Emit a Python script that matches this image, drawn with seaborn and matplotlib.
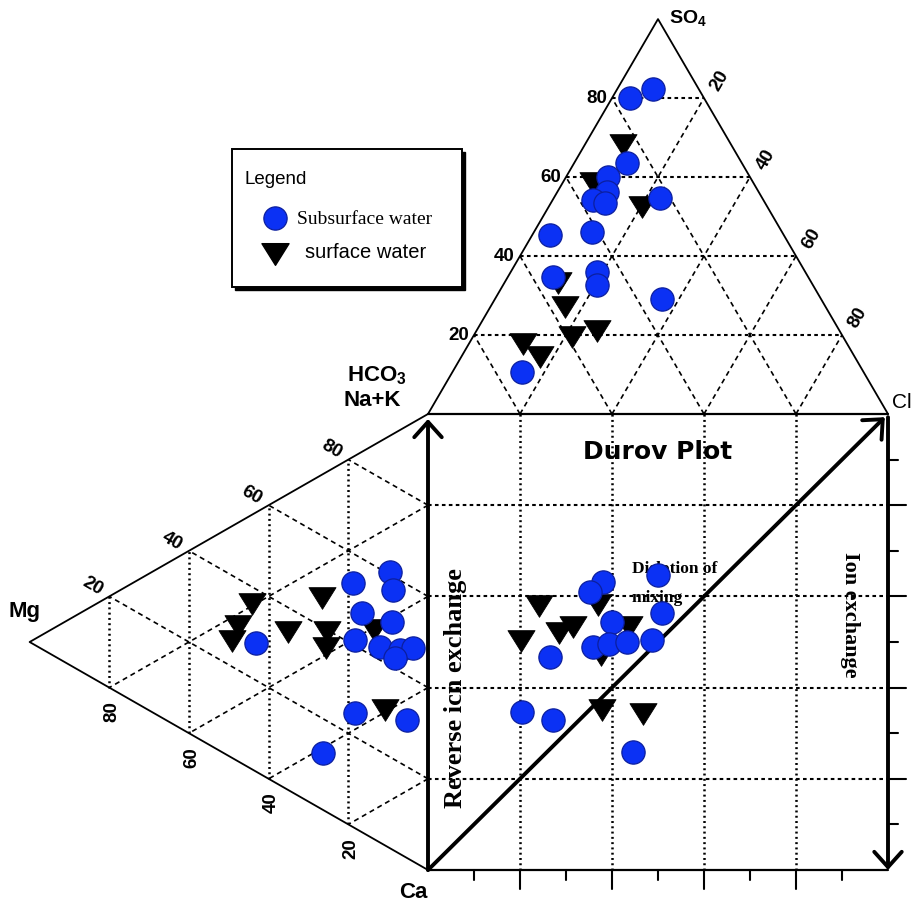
import numpy as np
import pandas as pd
import matplotlib
matplotlib.use("Agg")
import matplotlib.pyplot as plt
from matplotlib.path import Path
from matplotlib.patches import Rectangle
import seaborn as sns

# ---------------- data ----------------
# Anion triangle (top): % SO4 and % Cl of each sample (HCO3 is the remainder)
top_sub_so4 = [80.1, 82.4, 63.5, 59.9, 56.2, 54.2, 53.4, 54.7, 45.3, 46.1, 34.8, 36.0, 32.7, 29.0, 10.6]
top_sub_cl = [3.9, 7.7, 11.5, 9.2, 10.8, 8.8, 11.8, 23.1, 3.8, 12.7, 9.8, 18.7, 20.3, 36.4, 15.1]
top_surf_so4 = [68.0, 58.4, 52.4, 33.2, 27.0, 19.4, 20.9, 17.6, 14.4]
top_surf_cl = [8.4, 6.7, 20.3, 11.7, 16.3, 21.6, 26.2, 11.9, 17.1]

# Cation triangle (left): % Mg and % Na+K of each sample (Ca is the remainder)
left_sub_mg = [18.8, 9.5, 8.8, 16.6, 9.0, 18.3, 43.2, 12.0, 7.0, 3.8, 8.3, 18.3, 5.3, 26.4]
left_sub_nak = [53.5, 60.6, 57.0, 48.1, 49.9, 41.2, 28.2, 42.9, 44.7, 46.8, 42.4, 25.2, 30.3, 12.5]
left_surf_mg = [44.2, 47.7, 49.2, 35.1, 26.6, 25.4, 25.6, 13.6, 10.8]
left_surf_nak = [36.2, 29.7, 25.6, 34.6, 46.3, 39.5, 35.9, 45.8, 29.7]

# Central square: projected anion (x) and cation (y) percentages
sq_sub_x = [38.0, 35.2, 50.0, 50.9, 40.0, 35.9, 39.3, 43.3, 48.7, 26.5, 20.4, 27.2, 44.6]
sq_sub_y = [63.2, 61.0, 64.7, 56.4, 54.4, 48.9, 49.6, 50.0, 50.4, 46.7, 34.6, 32.9, 25.9]
sq_surf_x = [24.1, 20.2, 28.5, 31.5, 37.0, 43.7, 37.6, 37.8, 46.7]
sq_surf_y = [57.9, 50.2, 52.0, 53.3, 58.1, 53.3, 47.1, 35.1, 34.2]

grid_levels = [20, 40, 60, 80]
series_names = ["Subsurface water", "surface water"]

# ---------------- projections ----------------
H = np.sqrt(3) / 2


def top_xy(so4, cl):
    so4 = np.asarray(so4, float)
    cl = np.asarray(cl, float)
    return cl + so4 / 2, 100 + so4 * H


def left_xy(mg, nak):
    mg = np.asarray(mg, float)
    nak = np.asarray(nak, float)
    return -mg * H, nak + mg / 2


def build(name, parts):
    xs = np.concatenate([p[0] for p in parts])
    ys = np.concatenate([p[1] for p in parts])
    return pd.DataFrame({"x": xs, "y": ys, "water": name})


sub_df = build(series_names[0], [top_xy(top_sub_so4, top_sub_cl),
                                 left_xy(left_sub_mg, left_sub_nak),
                                 (np.array(sq_sub_x), np.array(sq_sub_y))])
surf_df = build(series_names[1], [top_xy(top_surf_so4, top_surf_cl),
                                  left_xy(left_surf_mg, left_surf_nak),
                                  (np.array(sq_surf_x), np.array(sq_surf_y))])

# ---------------- style ----------------
sns.set_theme(style="white")
plt.rcParams["font.family"] = ["Liberation Sans", "DejaVu Sans"]
plt.rcParams["text.color"] = "black"
plt.rcParams["mathtext.default"] = "regular"
plt.rcParams["lines.scale_dashes"] = False

BLUE = "#0b31f4"
BLUE_EDGE = "#0c1f9e"
TRI = Path([(-1, 0.8), (1, 0.8), (0, -0.8), (-1, 0.8)], closed=True)
SERIF = ["Liberation Serif", "DejaVu Serif"]

SX, SY = 4.6, 4.56          # pixels per percent unit
fig = plt.figure(figsize=(9.18, 9.06), dpi=100)
ax = fig.add_axes([0, 0, 1, 1])


def P(x, y):
    """Canvas pixel position -> axes units (for annotation layout)."""
    return (x - 428) / SX, (870 - y) / SY


DOT = dict(color="black", lw=1.8, ls=(0, (1.4, 2.4)), zorder=1)
DASH = dict(color="black", lw=1.2, ls=(0, (3.6, 2.8)), zorder=1)
HDASH = dict(color="black", lw=1.5, ls=(0, (2.6, 2.4)), zorder=1)
EDGE = dict(color="black", lw=1.3, zorder=2)

# ---------------- grids ----------------
for v in grid_levels:
    # anion triangle
    ax.plot(*zip(top_xy(v, 0), top_xy(v, 100 - v)), **HDASH)
    ax.plot(*zip(top_xy(0, v), top_xy(100 - v, v)), **DASH)
    ax.plot(*zip(top_xy(0, 100 - v), top_xy(100 - v, 0)), **DASH)
    # cation triangle
    ax.plot(*zip(left_xy(v, 0), left_xy(v, 100 - v)), **DOT)
    ax.plot(*zip(left_xy(0, v), left_xy(100 - v, v)), **DASH)
    ax.plot(*zip(left_xy(0, 100 - v), left_xy(100 - v, 0)), **DASH)
    # square
    ax.plot([v, v], [0, 100], **DOT)
    ax.plot([0, 100], [v, v], **HDASH)

# outlines
ax.plot(*zip(top_xy(0, 0), top_xy(100, 0), top_xy(0, 100)), **EDGE)
ax.plot(*zip(left_xy(0, 100), left_xy(100, 0), left_xy(0, 0)), **EDGE)
ax.plot([0, 100], [100, 100], color="black", lw=1.6, zorder=2)
ax.plot([0, 100], [0, 0], color="black", lw=1.6, zorder=2)

# ticks along the bottom and right side of the square
for v in range(10, 100, 10):
    L = 19 if v % 20 == 0 else 10
    ax.plot([v, v], [0, -L / SY], color="black", lw=1.5, zorder=2)
    L = 18 if v % 20 == 0 else 10
    ax.plot([100, 100 + L / SX], [v, v], color="black", lw=1.5, zorder=2)

# process arrows
AP = dict(arrowstyle="->,head_length=0.5,head_width=0.45", lw=2.8,
          color="black", shrinkA=0, shrinkB=0, mutation_scale=22)
ax.annotate("", xy=(0, 98.9), xytext=(0, 0), arrowprops=AP, zorder=3)
ax.annotate("", xy=(99.3, 99.3), xytext=(0, 0), arrowprops=AP, zorder=3)
ax.annotate("", xy=(100, 0), xytext=(100, 99.3), arrowprops=AP, zorder=3)

# ---------------- samples ----------------
sns.scatterplot(data=surf_df, x="x", y="y", marker=TRI, s=380, color="black",
                edgecolor="black", linewidth=0.6, legend=False, ax=ax, zorder=5)
sns.scatterplot(data=sub_df, x="x", y="y", marker="o", s=280, color=BLUE,
                edgecolor=BLUE_EDGE, linewidth=0.9, legend=False, ax=ax, zorder=6)

# ---------------- scale labels ----------------
NUM = dict(fontsize=13.5, fontweight="bold", ha="center", va="center")
for v in grid_levels:
    x, y = top_xy(v, 0)
    ax.text(x - 5 / SX, y, str(v), **{**NUM, "ha": "right"})
    x, y = top_xy(v, 100 - v)
    ax.text(x + 16 / SX, y + 17 / SY, str(100 - v), rotation=60, **NUM)
    x, y = left_xy(v, 100 - v)
    ax.text(x - 17 / SX, y + 10 / SY, str(100 - v), rotation=-30, **NUM)
    x, y = left_xy(v, 0)
    ax.text(x + 3 / SX, y - 24 / SY, str(v), rotation=90, **NUM)

# ---------------- corner labels ----------------
CORNER = dict(fontsize=16, fontweight="bold", ha="center", va="center")
ax.text(*P(669, 18), "SO$_4$", fontsize=14, fontweight="bold", ha="left", va="center")
ax.text(*P(902, 402), "Cl", fontsize=15, ha="center", va="center")
ax.text(*P(377, 376), "HCO$_3$", **CORNER)
ax.text(*P(372, 401), "Na+K", **CORNER)
ax.text(*P(25, 612), "Mg", **CORNER)
ax.text(*P(413, 893), "Ca", **CORNER)

# ---------------- annotations ----------------
ax.text(*P(658, 452), "Durov Plot", family="DejaVu Sans", fontsize=18,
        fontweight="heavy", ha="center", va="center")
ax.text(*P(632, 569), "Dislotion of", family=SERIF, fontsize=12.5,
        fontweight="bold", ha="left", va="center", zorder=4)
ax.text(*P(632, 598), "mixing", family=SERIF, fontsize=12.5,
        fontweight="bold", ha="left", va="center", zorder=4)
ax.text(*P(456, 688), "Reverse icn exchange", family=SERIF, fontsize=19,
        fontweight="bold", rotation=90, ha="center", va="center")
ax.text(*P(850, 615), "Ion exchange", family=SERIF, fontsize=16,
        fontweight="bold", rotation=-90, ha="center", va="center")

# ---------------- legend box ----------------
x0, y0 = P(232, 287)
x1, y1 = P(462, 149)
ax.add_patch(Rectangle((x0 + 3 / SX, y0 - 3 / SY), x1 - x0, y1 - y0,
                       facecolor="black", edgecolor="black", lw=1.0, zorder=7))
ax.add_patch(Rectangle((x0, y0), x1 - x0, y1 - y0, facecolor="white",
                       edgecolor="black", lw=1.4, zorder=8))
ax.text(*P(245, 180), "Legend", fontsize=13.5, ha="left", va="center", zorder=9)
ax.scatter(*P(275, 218), marker="o", s=280, color=BLUE, edgecolor=BLUE_EDGE,
           linewidth=0.9, zorder=9)
ax.text(*P(297, 219), series_names[0], family=SERIF, fontsize=14,
        ha="left", va="center", zorder=9)
ax.scatter(*P(275, 254), marker=TRI, s=380, color="black", zorder=9)
ax.text(*P(305, 252), series_names[1], fontsize=14.5, ha="left",
        va="center", zorder=9)

ax.set_xlim(-428 / SX, 490 / SX)
ax.set_ylim(-36 / SY, 870 / SY)
ax.axis("off")

fig.savefig("out.png", dpi=100, facecolor="white")
